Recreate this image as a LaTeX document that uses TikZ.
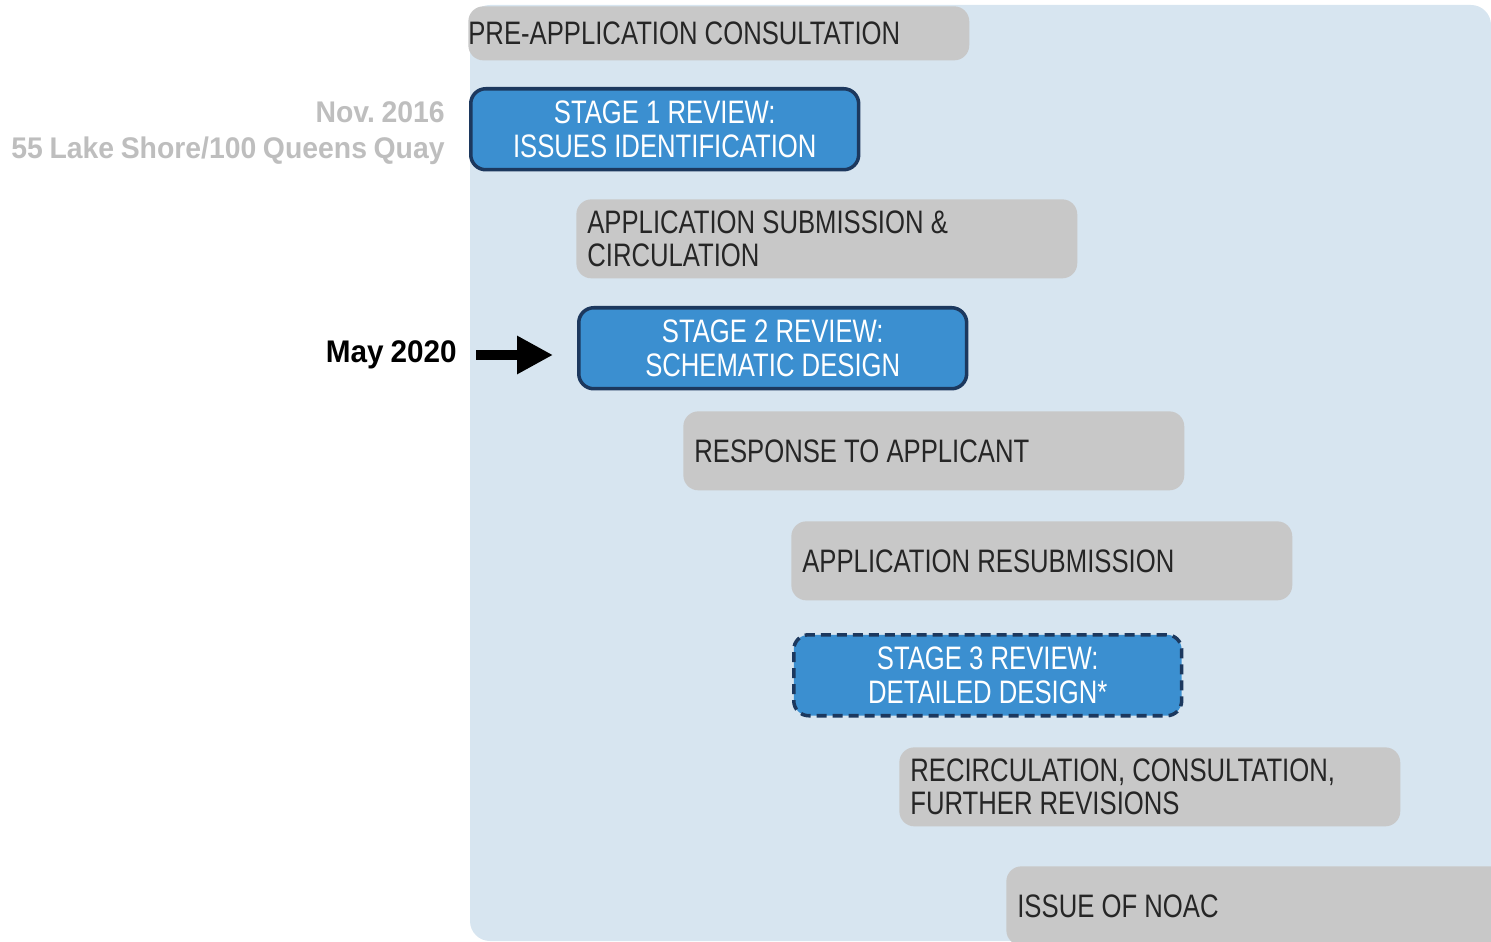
\documentclass[tikz,border=0pt]{standalone}
\usepackage{fontspec}
\usepackage{tikz}
\usetikzlibrary{arrows.meta}
\setmainfont{Liberation Sans}[FakeStretch=0.79]
\newfontfamily\labelfont{Liberation Sans}[FakeStretch=0.95]
\definecolor{panelblue}{RGB}{215,229,240}
\definecolor{stepgray}{RGB}{200,200,200}
\definecolor{stageblue}{RGB}{59,143,208}
\definecolor{stageline}{RGB}{28,56,94}
\definecolor{labelgray}{RGB}{190,190,190}
\tikzset{
    every node/.style={execute at begin node={\spaceskip=0.22em\xspaceskip=0.22em}},
    stepbox/.style={fill=stepgray, rounded corners=0.3cm, anchor=north west,
        text width=9.58cm, inner xsep=0.22cm, minimum height=1.58cm,
        align=left, text=black!85, font=\fontsize{18.5}{19.3}\selectfont},
    stagebox/.style={fill=stageblue, draw=stageline, line width=2pt,
        rounded corners=0.3cm, anchor=north west, text width=7.36cm,
        inner xsep=0.2cm, minimum height=1.62cm, align=center, text=white,
        font=\fontsize{18.5}{19.3}\selectfont},
    bigarrow/.style={line width=0.2cm, -{Triangle[length=0.72cm,width=0.72cm]}}
}

\begin{document}
\begin{tikzpicture}[x=0.02cm, y=-0.02cm]
    \useasboundingbox (0,0) rectangle (1491,942);
    \begin{scope}
        \clip (0,0) rectangle (1491,942);
        \fill[panelblue, rounded corners=0.4cm] (470,5) rectangle (1491,941);
        \node[stepbox, inner xsep=0pt, text width=10.02cm, minimum height=1.08cm] (consult) at (468,6) {PRE-APPLICATION CONSULTATION};
        \node[stagebox] (stage1) at (469,87) {STAGE 1 REVIEW:\\ISSUES IDENTIFICATION};
        \node[stepbox] (submit) at (576,199) {APPLICATION SUBMISSION \&\\CIRCULATION};
        \node[stagebox] (stage2) at (577,306) {STAGE 2 REVIEW:\\SCHEMATIC DESIGN};
        \node[stepbox] (response) at (683,411) {RESPONSE TO APPLICANT};
        \node[stepbox] (resubmit) at (791,521) {APPLICATION RESUBMISSION};
        \node[stagebox, dash pattern=on 0.2cm off 0.12cm] (stage3) at (792,633) {STAGE 3 REVIEW:\\DETAILED DESIGN*};
        \node[stepbox] (recirc) at (899,747) {RECIRCULATION, CONSULTATION,\\FURTHER REVISIONS};
        \node[stepbox] (noac) at (1006,866) {ISSUE OF NOAC};
    \end{scope}
    \node[anchor=east, align=right, text=labelgray, inner sep=0pt,
        font=\labelfont\bfseries\fontsize{17}{20.4}\selectfont] (site) at (445,133) {Nov. 2016\\55 Lake Shore/100 Queens Quay};
    \node[anchor=east, inner sep=0pt, font=\labelfont\bfseries\fontsize{17.8}{20}\selectfont] (may) at (457,355) {May 2020};
    \draw[bigarrow, shorten <=0.38cm, shorten >=0.48cm] (may.east) -- (may.east -| stage2.west);
\end{tikzpicture}
\end{document}
